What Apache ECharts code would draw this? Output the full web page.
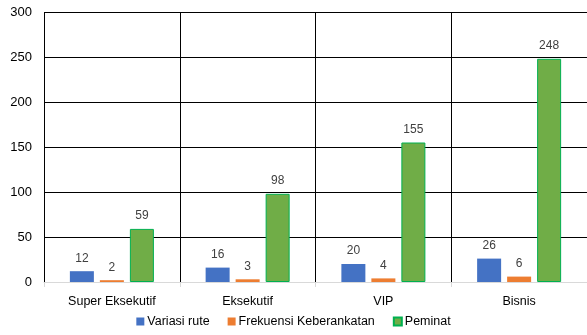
<!DOCTYPE html>
<html>
<head>
<meta charset="utf-8">
<script src="https://cdn.jsdelivr.net/npm/echarts@6/dist/echarts.min.js"></script>
<style>
  html, body { margin: 0; padding: 0; background: #fff; }
  #chart { width: 587px; height: 335px; }
</style>
</head>
<body>
<div id="chart"></div>
<script>
// Kelas layanan dan nilai tiap seri
const categories = ['Super Eksekutif', 'Eksekutif', 'VIP', 'Bisnis'];
const variasiRute = [12, 16, 20, 26];
const frekuensi = [2, 3, 4, 6];
const peminat = [59, 98, 155, 248];
const seriesNames = ['Variasi rute', 'Frekuensi Keberankatan', 'Peminat'];

const font = 'Liberation Sans, Arial, sans-serif';
const labelStyle = { show: true, position: 'top', distance: 7, color: '#404040', fontSize: 12, fontFamily: font };

const chart = echarts.init(document.getElementById('chart'));
chart.setOption({
  animation: false,
  textStyle: { fontFamily: font },
  grid: { left: 44, right: -1, top: 12, bottom: 53, containLabel: false },
  legend: {
    data: seriesNames,
    bottom: 2,
    left: 'center',
    itemWidth: 8,
    itemHeight: 8,
    itemGap: 18,
    icon: 'rect',
    textStyle: { fontSize: 12.5, color: '#000', fontFamily: font, padding: [0, 0, 0, -2] }
  },
  xAxis: {
    type: 'category',
    data: categories,
    axisLine: { lineStyle: { color: '#d9d9d9', width: 1 } },
    axisTick: { show: true, length: 5, lineStyle: { color: '#d9d9d9' } },
    axisLabel: { color: '#000', fontSize: 12.5, margin: 13, fontFamily: font },
    splitLine: { show: true, lineStyle: { color: '#000', width: 1 } }
  },
  yAxis: {
    type: 'value',
    min: 0,
    max: 300,
    interval: 50,
    axisLine: { show: false },
    axisTick: { show: false },
    axisLabel: { color: '#000', fontSize: 13, margin: 12, fontFamily: font },
    splitLine: { lineStyle: { color: '#000', width: 1 } }
  },
  series: [
    {
      name: seriesNames[0], type: 'bar', data: variasiRute,
      barWidth: 24, barGap: '25%',
      itemStyle: { color: '#4472C4' },
      label: labelStyle
    },
    {
      name: seriesNames[1], type: 'bar', data: frekuensi,
      barWidth: 24, barGap: '25%',
      itemStyle: { color: '#ED7D31' },
      label: labelStyle
    },
    {
      name: seriesNames[2], type: 'bar', data: peminat,
      barWidth: 24, barGap: '25%',
      itemStyle: { color: '#70AD47', borderColor: '#00B050', borderWidth: 1 },
      label: labelStyle
    }
  ]
});
</script>
</body>
</html>
